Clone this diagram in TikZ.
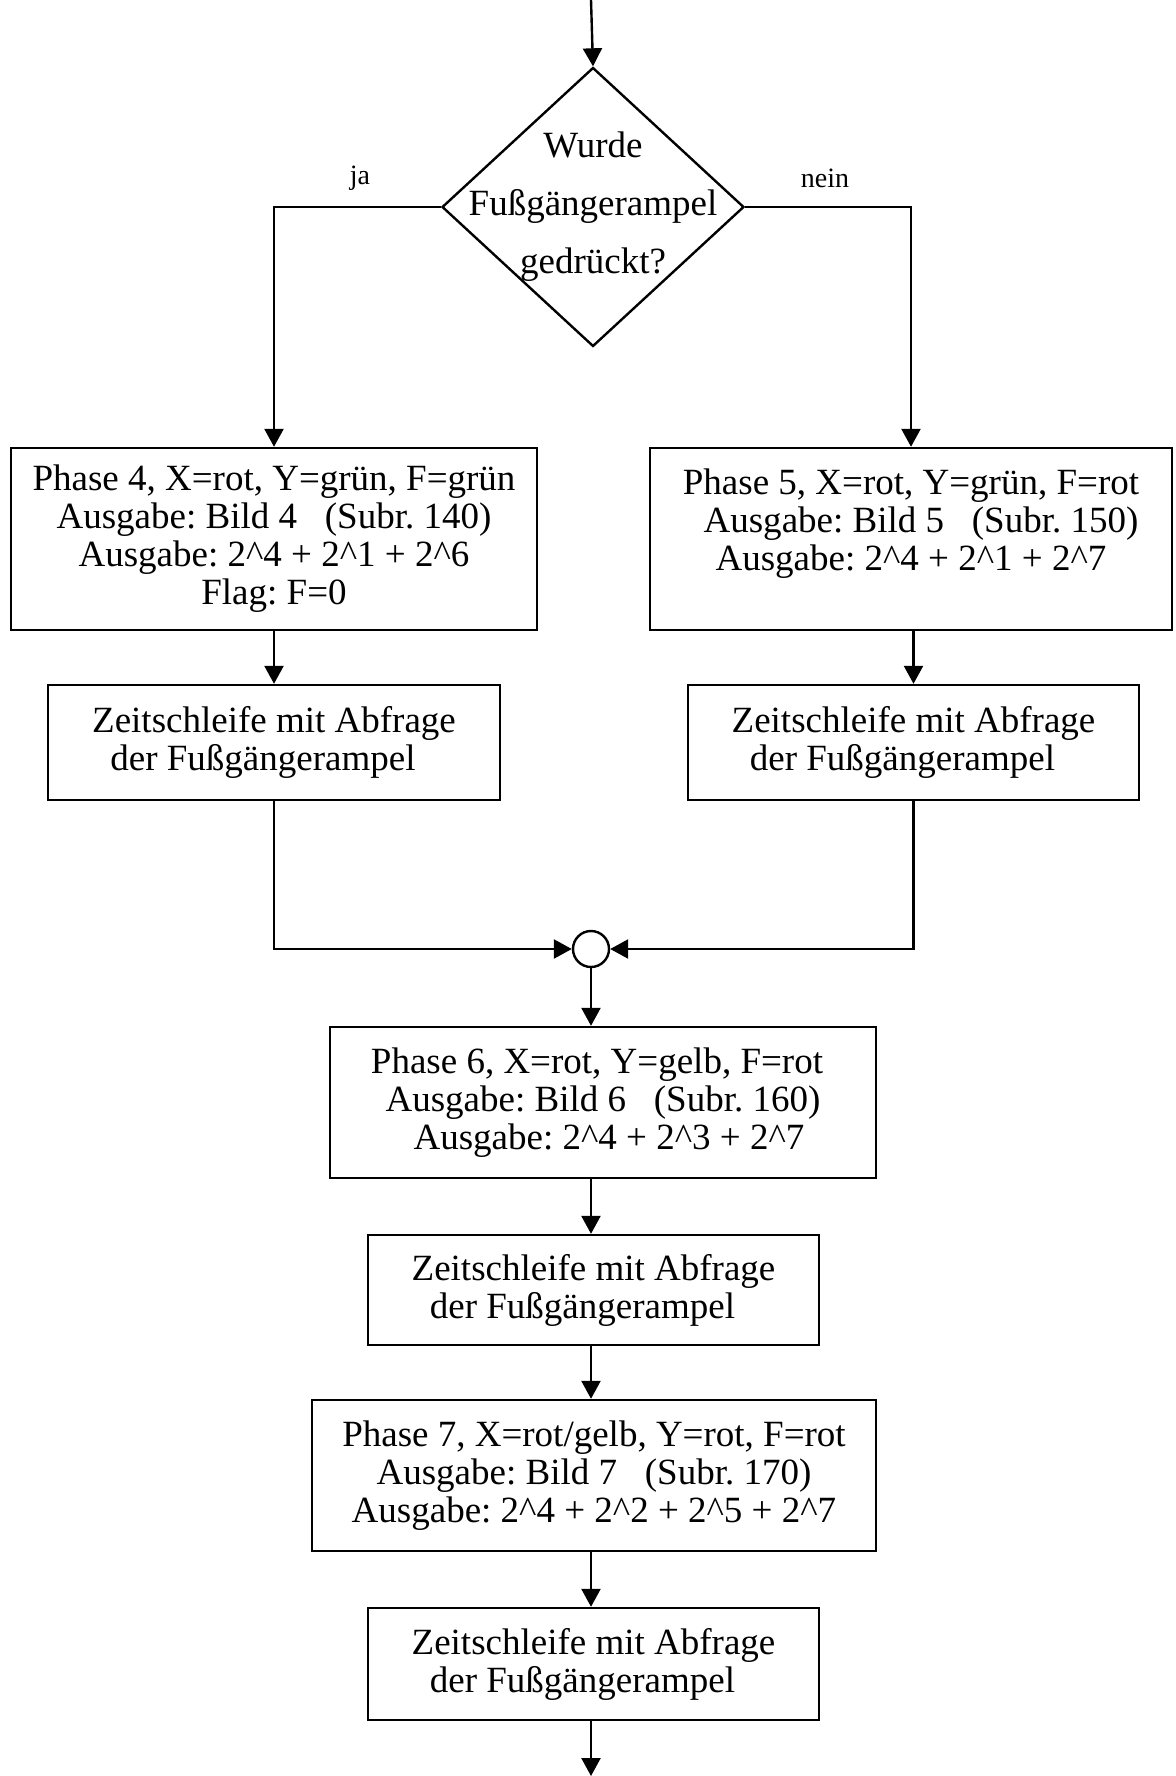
\documentclass[tikz,border=0pt]{standalone}
\usepackage{fontspec}
\setmainfont{Liberation Serif}
\usetikzlibrary{arrows.meta,positioning,shapes.geometric}
\newcommand{\hoch}[1]{2\textasciicircum{}#1}
\frenchspacing

\begin{document}
\begin{tikzpicture}[x=0.5pt,y=-0.5pt,line width=1.2pt,
    arr/.style={-{Triangle[length=9pt,width=9.5pt]}},
    phasebox/.style={draw, align=center, inner sep=0pt,
      font=\fontsize{18.5}{19}\selectfont},
    decision/.style={diamond, draw, minimum width=151pt, minimum height=139.5pt, inner sep=0pt},
    junction/.style={circle, draw, minimum size=18pt, inner sep=0pt},
    branch/.style={font=\fontsize{14}{16}\selectfont}]
    \useasboundingbox (0,0) rectangle (1176,1776);

    % Entry and decision
    \coordinate (start) at (591,0);
    \node[decision] (dec) at (593,207) {};
    \node[align=center, inner sep=0pt, font=\fontsize{18.5}{19}\selectfont] (question) at (dec.center)
      {Wurde\\[10pt]Fußgängerampel\\[10pt]gedrückt?};
    \node[branch] (ja) at (360,178) {ja};
    \node[branch] (nein) at (825,178) {nein};

    % Phase 4 / Phase 5
    \node[phasebox, minimum width=263pt, minimum height=91pt] (p4) at (274,539)
      {Phase 4, X=rot, Y=grün, F=grün\\
       Ausgabe: Bild 4 \ \ (Subr. 140)\\
       Ausgabe: \hoch{4} + \hoch{1} + \hoch{6}\hspace*{14pt}\\
       Flag: F=0};
    \node[phasebox, minimum width=261pt, minimum height=91pt] (p5) at (911,539)
      {Phase 5, X=rot, Y=grün, F=rot\\
       \hspace*{10pt}Ausgabe: Bild 5 \ \ (Subr. 150)\\
       Ausgabe: \hoch{4} + \hoch{1} + \hoch{7}\hspace*{16pt}\\
       ~};
    \node[phasebox, minimum width=226pt, minimum height=57.5pt] (z4) at (274,742.5)
      {Zeitschleife mit Abfrage\\ der Fußgängerampel\hspace*{11pt}};
    \node[phasebox, minimum width=225.5pt, minimum height=57.5pt] (z5) at (913.5,742.5)
      {Zeitschleife mit Abfrage\\ der Fußgängerampel\hspace*{11pt}};

    % Merge
    \node[junction] (j) at (591,949) {};

    % Phase 6 / Phase 7
    \node[phasebox, minimum width=273pt, minimum height=75.5pt] (p6) at (603,1102.5)
      {Phase 6, X=rot, Y=gelb, F=rot\hspace*{6pt}\\
       Ausgabe: Bild 6 \ \ (Subr. 160)\\
       \hspace*{6pt}Ausgabe: \hoch{4} + \hoch{3} + \hoch{7}};
    \node[phasebox, minimum width=225.5pt, minimum height=55pt] (z6) at (593.5,1290)
      {Zeitschleife mit Abfrage\\ der Fußgängerampel\hspace*{11pt}};
    \node[phasebox, minimum width=282pt, minimum height=75.5pt] (p7) at (594,1475.5)
      {Phase 7, X=rot/gelb, Y=rot, F=rot\\
       Ausgabe: Bild 7 \ \ (Subr. 170)\\
       Ausgabe: \hoch{4} + \hoch{2} + \hoch{5} + \hoch{7}};
    \node[phasebox, minimum width=225.5pt, minimum height=56pt] (z7) at (593.5,1664)
      {Zeitschleife mit Abfrage\\ der Fußgängerampel\hspace*{11pt}};
    \coordinate (end) at (591,1776);

    % Connectors
    \draw[arr] (start) -- (dec.north);
    \draw[arr] (dec.west) -| (p4.north);
    \draw[arr] (dec.east) -| (p5.north);
    \draw[arr] (p4.south) -- (z4.north);
    \draw[arr] (p5.south -| z5.north) -- (z5.north);
    \draw[arr] (z4.south) |- (j.west);
    \draw[arr] (z5.south) |- (j.east);
    \draw[arr] (j.south) -- (j |- p6.north);
    \draw[arr] (j |- p6.south) -- (j |- z6.north);
    \draw[arr] (j |- z6.south) -- (j |- p7.north);
    \draw[arr] (j |- p7.south) -- (j |- z7.north);
    \draw[arr] (j |- z7.south) -- (end);
\end{tikzpicture}
\end{document}
